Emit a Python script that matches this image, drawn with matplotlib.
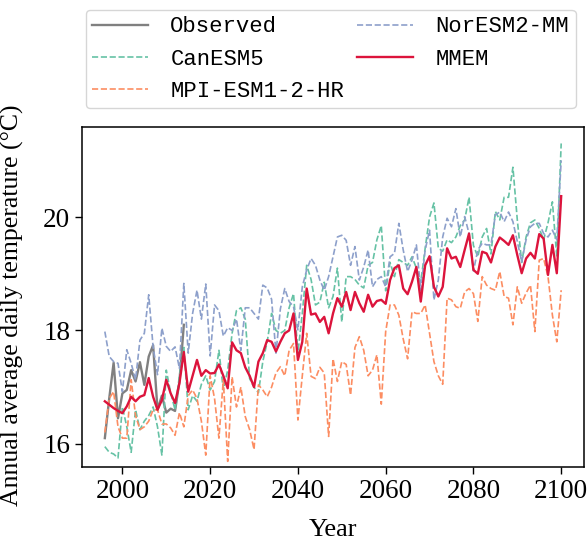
import numpy as np
import matplotlib
matplotlib.use("Agg")
import matplotlib.pyplot as plt

# years
years = list(range(1996, 2101))
obs_years = list(range(1996, 2015))

observed = [16.10, 16.80, 17.43, 16.45, 16.89, 16.95, 17.30, 17.10, 17.44, 17.04,
            17.54, 17.74, 16.60, 16.85, 16.55, 16.62, 16.58, 17.10, 18.10]

canesm5 = [15.95, 15.85, 15.82, 15.75, 16.65, 16.30, 15.85, 16.60, 16.25, 16.40,
           16.50, 16.65, 16.30, 15.80, 17.30, 16.90, 16.60, 17.20, 17.70, 16.60,
           16.85, 16.75, 17.05, 17.20, 16.95, 17.10, 17.65, 16.95, 17.30, 17.95,
           18.35, 18.40, 18.20, 17.15, 17.00, 16.90, 17.45, 17.80, 18.30, 18.00,
           17.95, 18.00, 18.40, 18.65, 17.60, 18.30, 19.15, 18.90, 18.45, 18.50,
           18.85, 18.40, 18.60, 19.10, 18.15, 18.95, 18.95, 18.90, 18.80, 18.75,
           19.15, 19.20, 19.60, 19.85, 18.70, 19.20, 18.95, 19.25, 19.20, 19.15,
           19.30, 19.10, 18.85, 19.45, 20.00, 20.25, 19.45, 19.40, 19.60, 19.55,
           19.65, 19.85, 19.95, 20.35, 19.50, 19.30, 19.65, 19.80, 19.35, 20.10,
           19.95, 20.35, 20.35, 20.88, 19.95, 19.20, 19.65, 19.90, 19.95, 19.80,
           19.60, 19.90, 20.27, 19.30, 21.30]

mpi = [16.20, 16.80, 16.92, 16.30, 16.10, 16.10, 17.13, 16.50, 16.25, 16.30,
       16.40, 16.60, 16.60, 16.35, 16.35, 16.28, 16.15, 16.55, 16.30, 16.85,
       16.95, 16.80, 16.40, 15.80, 17.20, 16.80, 16.10, 17.13, 15.69, 17.18,
       16.65, 17.00, 16.48, 16.25, 15.90, 17.04, 16.95, 16.83, 17.00, 17.25,
       17.36, 17.20, 17.65, 17.77, 16.42, 17.20, 17.95, 17.19, 17.15, 17.35,
       17.25, 16.13, 17.50, 17.10, 17.45, 17.40, 16.86, 17.70, 17.89, 17.65,
       17.20, 17.30, 17.57, 16.70, 17.98, 18.45, 18.45, 18.27, 17.85, 17.50,
       18.33, 18.30, 18.30, 18.45, 17.95, 17.45, 17.20, 17.05, 18.57, 18.54,
       18.42, 18.39, 18.68, 18.74, 18.65, 18.16, 18.95, 18.80, 18.74, 18.71,
       19.04, 18.60, 18.57, 18.10, 18.77, 18.48, 18.66, 18.80, 17.98, 19.24,
       19.27, 18.95, 18.27, 17.80, 18.71]

noresm = [17.98, 17.54, 17.45, 17.42, 16.92, 17.66, 17.42, 17.13, 17.83, 17.95,
          18.63, 17.71, 17.22, 18.04, 17.72, 17.63, 17.71, 17.33, 18.83, 17.60,
          18.30, 18.71, 18.20, 18.82, 17.55, 18.45, 18.35, 17.90, 18.05, 18.00,
          18.20, 17.65, 18.40, 18.40, 18.30, 18.20, 18.80, 18.75, 18.55, 17.60,
          18.38, 18.74, 18.51, 18.42, 18.01, 18.77, 19.07, 19.27, 19.15, 18.89,
          18.71, 18.95, 19.30, 19.65, 19.68, 19.59, 19.15, 19.48, 18.89, 19.12,
          19.42, 18.77, 18.90, 18.95, 18.77, 19.30, 19.36, 19.89, 19.42, 19.04,
          19.24, 19.51, 18.71, 19.42, 19.77, 18.54, 18.89, 19.65, 19.98, 19.83,
          20.15, 19.65, 20.01, 19.71, 19.05, 19.42, 19.54, 19.51, 19.51, 20.04,
          20.09, 19.92, 20.09, 19.92, 19.57, 19.21, 19.60, 19.83, 19.89, 19.89,
          19.71, 19.65, 19.77, 19.60, 21.00]

mmem = [16.75, 16.69, 16.63, 16.58, 16.54, 16.66, 16.83, 16.75, 16.83, 16.86,
        17.16, 16.83, 16.60, 16.77, 17.13, 16.89, 16.72, 17.07, 17.62, 16.92,
        17.20, 17.48, 17.20, 17.30, 17.24, 17.25, 17.40, 17.20, 16.98, 17.79,
        17.65, 17.60, 17.35, 17.20, 17.00, 17.45, 17.60, 17.83, 17.80, 17.63,
        17.80, 17.95, 18.00, 18.30, 17.48, 17.80, 18.74, 18.28, 18.30, 18.15,
        18.24, 17.95, 18.30, 18.57, 18.42, 18.68, 18.36, 18.68, 18.48, 18.33,
        18.63, 18.42, 18.52, 18.54, 18.47, 18.89, 19.10, 19.15, 18.74, 18.64,
        18.86, 19.12, 18.51, 19.15, 19.31, 18.77, 18.60, 18.77, 19.45, 19.27,
        19.30, 19.12, 19.42, 19.71, 19.07, 19.00, 19.39, 19.36, 19.20, 19.48,
        19.64, 19.58, 19.51, 19.68, 19.33, 19.01, 19.27, 19.37, 19.27, 19.70,
        19.62, 18.98, 19.51, 19.01, 20.37]

serif = 'Liberation Serif'
mono = 'Liberation Mono'

fig = plt.figure(figsize=(5.88, 5.44), dpi=100)
ax = fig.add_axes([0.1395, 0.1415, 0.8537, 0.625])

ax.plot(obs_years, observed, color='gray', linewidth=1.7, label='Observed')
ax.plot(years, canesm5, color='#66c2a5', linestyle='--', linewidth=1.2, label='CanESM5')
ax.plot(years, mpi, color='#fc8d62', linestyle='--', linewidth=1.2, label='MPI-ESM1-2-HR')
ax.plot(years, noresm, color='#8da0cb', linestyle='--', linewidth=1.2, label='NorESM2-MM')
ax.plot(years, mmem, color='crimson', linewidth=1.7, label='MMEM')

ax.set_xlim(1990.8, 2105.2)
ax.set_ylim(15.59, 21.59)
ax.set_xticks([2000, 2020, 2040, 2060, 2080, 2100])
ax.set_yticks([16, 18, 20])
for lab in ax.get_xticklabels() + ax.get_yticklabels():
    lab.set_fontfamily(serif)
    lab.set_fontsize(19.5)
ax.tick_params(direction='out', length=5, width=1)
for s in ax.spines.values():
    s.set_linewidth(1.1)

ax.set_xlabel('Year', fontfamily=serif, fontsize=19, labelpad=11)
ax.set_ylabel('Annual average daily temperature (°C)', fontfamily=serif, fontsize=18.5, labelpad=7)
ax.yaxis.set_label_coords(-0.115, 0.475)

leg = ax.legend(loc='lower center', bbox_to_anchor=(0.4955, 1.055), ncol=2,
                prop={'family': mono, 'size': 16}, borderaxespad=0,
                handlelength=2.5, handletextpad=1.0, columnspacing=0.6,
                labelspacing=0.5, borderpad=0.3, frameon=True)
leg.get_frame().set_edgecolor('#cccccc')

fig.savefig('out.png', dpi=100)
